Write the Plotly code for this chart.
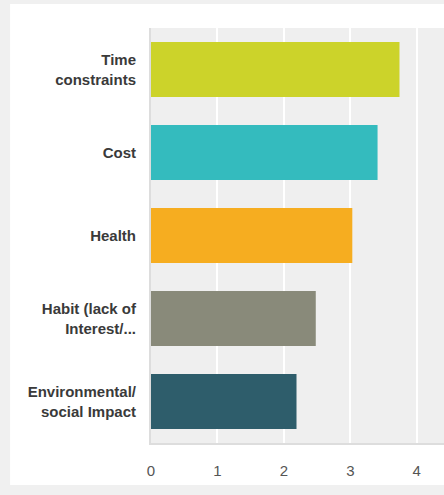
import plotly.graph_objects as go

categories = ["Time<br>constraints", "Cost", "Health", "Habit (lack of<br>Interest/...", "Environmental/<br>social Impact"]
values = [3.74, 3.41, 3.03, 2.48, 2.19]
colors = ["#ccd32a", "#34bbbe", "#f6ad20", "#898a7a", "#2e5d6b"]
x_ticks = [0, 1, 2, 3, 4]

fig = go.Figure(go.Bar(
    y=categories, x=values, orientation="h",
    marker=dict(color=colors, line=dict(width=0)),
    hoverinfo="x+y",
))

fig.update_layout(
    width=444, height=495,
    margin=dict(l=151, r=0, t=28, b=52),
    paper_bgcolor="#f0f0f0",
    plot_bgcolor="#efefef",
    bargap=0.34,
    showlegend=False,
    font=dict(family="Liberation Sans, Arial, sans-serif"),
    shapes=[
        dict(type="rect", xref="paper", yref="paper",
             x0=-0.481, x1=1.1, y0=-0.101, y1=1.058,
             fillcolor="white", line=dict(width=0), layer="below"),
        dict(type="rect", xref="paper", yref="paper",
             x0=0, x1=1.05, y0=0, y1=1,
             fillcolor="#efefef", line=dict(width=0), layer="below"),
    ],
)
fig.update_xaxes(
    range=[0, 4.41], tickvals=x_ticks, ticktext=[str(v) for v in x_ticks],
    showgrid=True, gridcolor="#ffffff", gridwidth=1.5,
    zeroline=False, showline=True, linecolor="#dddddd", linewidth=2,
    tickfont=dict(size=15, color="#555555"),
    ticklabelstandoff=13, fixedrange=True,
)
fig.update_yaxes(
    categoryorder="array", categoryarray=categories[::-1],
    showgrid=False, zeroline=False, showline=True, linecolor="#dddddd", linewidth=2,
    tickfont=dict(size=15, color="#3a3a3a", weight="bold"),
    ticklabelstandoff=10, fixedrange=True,
)

fig.write_html("out.html")
